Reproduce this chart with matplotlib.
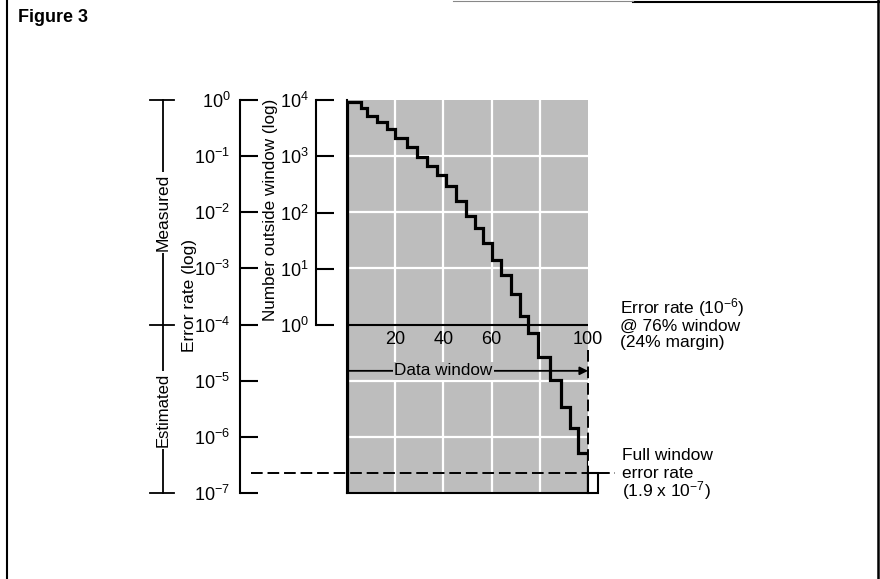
import matplotlib
matplotlib.use('Agg')
import matplotlib.pyplot as plt
from matplotlib.patches import Rectangle
from matplotlib.lines import Line2D
from matplotlib.ticker import NullLocator, FixedLocator, FixedFormatter

plt.rcParams['font.family'] = ['Liberation Sans', 'DejaVu Sans']
plt.rcParams['mathtext.fontset'] = 'custom'
plt.rcParams['mathtext.rm'] = 'Liberation Sans'

# step edges (% data window) and error rate in each step
window_edges = [0, 5.8, 8.3, 12.4, 16.6, 19.9, 24.9, 29.0, 33.2, 37.3, 41.1, 45.2, 49.4,
                53.1, 56.4, 60.2, 63.9, 68.0, 71.8, 75.1, 79.3, 84.2, 88.8, 92.5, 95.9, 100]
error_rate = [0.93, 0.72, 0.52, 0.41, 0.30, 0.21, 0.146, 0.097, 0.067, 0.046, 0.029, 0.016,
              0.0086, 0.0052, 0.0028, 0.0014, 7.6e-4, 3.5e-4, 1.4e-4, 7.1e-5, 2.6e-5,
              1.03e-5, 3.4e-6, 1.44e-6, 5.2e-7]
full_window_rate = 2.27e-7
data_window_y = 1.5e-5

err_ticks = [1e0, 1e-1, 1e-2, 1e-3, 1e-4, 1e-5, 1e-6, 1e-7]
err_labels = [r'$\mathregular{10^{0}}$', r'$\mathregular{10^{-1}}$', r'$\mathregular{10^{-2}}$',
              r'$\mathregular{10^{-3}}$', r'$\mathregular{10^{-4}}$', r'$\mathregular{10^{-5}}$',
              r'$\mathregular{10^{-6}}$', r'$\mathregular{10^{-7}}$']
num_ticks = [1e4, 1e3, 1e2, 1e1, 1e0]
num_labels = [r'$\mathregular{10^{4}}$', r'$\mathregular{10^{3}}$', r'$\mathregular{10^{2}}$',
              r'$\mathregular{10^{1}}$', r'$\mathregular{10^{0}}$']
x_labels = [20, 40, 60, 100]

W, H = 880, 579
def fx(px):
    return px / W
def fy(py):
    return 1 - py / H

fig = plt.figure(figsize=(8.8, 5.79), dpi=100)
shade = '#bdbdbd'

# main shaded plot
ax = fig.add_axes([fx(347), fy(493), fx(588) - fx(347), fy(100) - fy(493)])
ax.set_yscale('log')
ax.set_ylim(1e-7, 1)
ax.set_xlim(0, 100)
ax.set_facecolor(shade)
ax.set_xticks([])
ax.yaxis.set_major_locator(NullLocator())
ax.yaxis.set_minor_locator(NullLocator())
for s in ['top', 'right']:
    ax.spines[s].set_visible(False)
for s in ['left', 'bottom']:
    ax.spines[s].set_linewidth(1.5)

for v in [20, 40, 60, 80]:
    ax.axvline(v, color='white', lw=1.6, zorder=1)
for h in [1e-1, 1e-2, 1e-3, 1e-5, 1e-6]:
    ax.axhline(h, color='white', lw=1.6, zorder=1)
ax.axhline(1e-4, color='black', lw=1.5, zorder=2)

ax.stairs(error_rate, window_edges, baseline=1e-7, color='black', lw=2.3, zorder=4)

for v in x_labels:
    ax.text(v, 5.5e-5, str(v), ha='center', va='center', fontsize=13, zorder=5, clip_on=False)

# data window arrow
ax.annotate('', xy=(100, data_window_y), xytext=(0, data_window_y),
            arrowprops=dict(arrowstyle='-|>', color='black', lw=1.3, mutation_scale=12,
                            shrinkA=0, shrinkB=0), zorder=5)
ax.text(40, data_window_y, 'Data window', ha='center', va='center', fontsize=12.3, zorder=6,
        bbox=dict(facecolor=shade, edgecolor='none', pad=1))

# full window rate
ax.plot([-40, 111], [full_window_rate, full_window_rate], color='black', lw=1.4,
        dashes=(6, 2.5), clip_on=False, zorder=5)
ax.plot([100, 100], [3.5e-5, full_window_rate], color='black', lw=1.4,
        dashes=(6, 2.5), clip_on=False, zorder=5)
ax.add_patch(Rectangle((100, 1e-7), 4.1, full_window_rate - 1e-7, facecolor='white',
                       edgecolor='black', lw=1.5, clip_on=False, zorder=6))

# error rate axis
ax_e = fig.add_axes([fx(240), fy(493), 0.0005, fy(100) - fy(493)])
ax_e.set_yscale('log')
ax_e.set_ylim(1e-7, 1)
ax_e.set_facecolor('none')
ax_e.set_xticks([])
for s in ['top', 'right', 'bottom']:
    ax_e.spines[s].set_visible(False)
ax_e.spines['left'].set_linewidth(1.5)
ax_e.yaxis.set_major_locator(FixedLocator(err_ticks))
ax_e.yaxis.set_major_formatter(FixedFormatter(err_labels))
ax_e.yaxis.set_minor_locator(NullLocator())
ax_e.tick_params(axis='y', direction='in', length=13, width=1.5, labelsize=13, pad=7)

# number outside window axis
ax_n = fig.add_axes([fx(316), fy(325), 0.0005, fy(100) - fy(325)])
ax_n.set_yscale('log')
ax_n.set_ylim(1, 1e4)
ax_n.set_facecolor('none')
ax_n.set_xticks([])
for s in ['top', 'right', 'bottom']:
    ax_n.spines[s].set_visible(False)
ax_n.spines['left'].set_linewidth(1.5)
ax_n.yaxis.set_major_locator(FixedLocator(num_ticks))
ax_n.yaxis.set_major_formatter(FixedFormatter(num_labels))
ax_n.yaxis.set_minor_locator(NullLocator())
ax_n.tick_params(axis='y', direction='in', length=13, width=1.5, labelsize=13, pad=5)

fig.text(fx(189), fy(295), 'Error rate (log)', rotation=90, ha='center', va='center', fontsize=12.5)
fig.text(fx(270), fy(210), 'Number outside window (log)', rotation=90, ha='center', va='center',
         fontsize=12.3)

# measured / estimated bracket
ax_b = fig.add_axes([fx(150), fy(493), fx(174) - fx(150), fy(100) - fy(493)])
ax_b.set_yscale('log')
ax_b.set_ylim(1e-7, 1)
ax_b.set_xlim(0, 1)
ax_b.axis('off')
ax_b.plot([0.54, 0.54], [1e-7, 1], color='black', lw=1.3, clip_on=False)
for h in [1, 1e-4, 1e-7]:
    ax_b.plot([0, 1], [h, h], color='black', lw=1.3, clip_on=False)
ax_b.text(0.54, 10 ** -2.0, 'Measured', rotation=90, ha='center', va='center', fontsize=12.5,
          bbox=dict(facecolor='white', edgecolor='none', pad=1.5))
ax_b.text(0.54, 10 ** -5.52, 'Estimated', rotation=90, ha='center', va='center', fontsize=12,
          bbox=dict(facecolor='white', edgecolor='none', pad=1.5))

# right-hand notes
fig.text(fx(620), fy(308), r'Error rate ($\mathregular{10^{-6}}$)', ha='left', va='center',
         fontsize=12.5)
fig.text(fx(620), fy(326), '@ 76% window', ha='left', va='center', fontsize=12.5)
fig.text(fx(620), fy(343), '(24% margin)', ha='left', va='center', fontsize=12.5)
fig.text(fx(622), fy(455), 'Full window', ha='left', va='center', fontsize=12.5)
fig.text(fx(622), fy(473), 'error rate', ha='left', va='center', fontsize=12.5)
fig.text(fx(622), fy(491), r'(1.9 x $\mathregular{10^{-7}}$)', ha='left', va='center',
         fontsize=12.5)

fig.text(fx(18), fy(17), 'Figure 3', ha='left', va='center', fontsize=13, fontweight='bold')

# frame
fig.add_artist(Line2D([fx(7), fx(7)], [0, 1], color='black', lw=1.5))
fig.add_artist(Line2D([fx(878), fx(878)], [0, 1], color='black', lw=1.8))
fig.add_artist(Line2D([fx(633), 1], [fy(1.5), fy(1.5)], color='black', lw=1.5))
fig.add_artist(Line2D([fx(453), fx(633)], [fy(1), fy(1)], color='#888888', lw=0.8))

fig.savefig('out.png', dpi=100)
